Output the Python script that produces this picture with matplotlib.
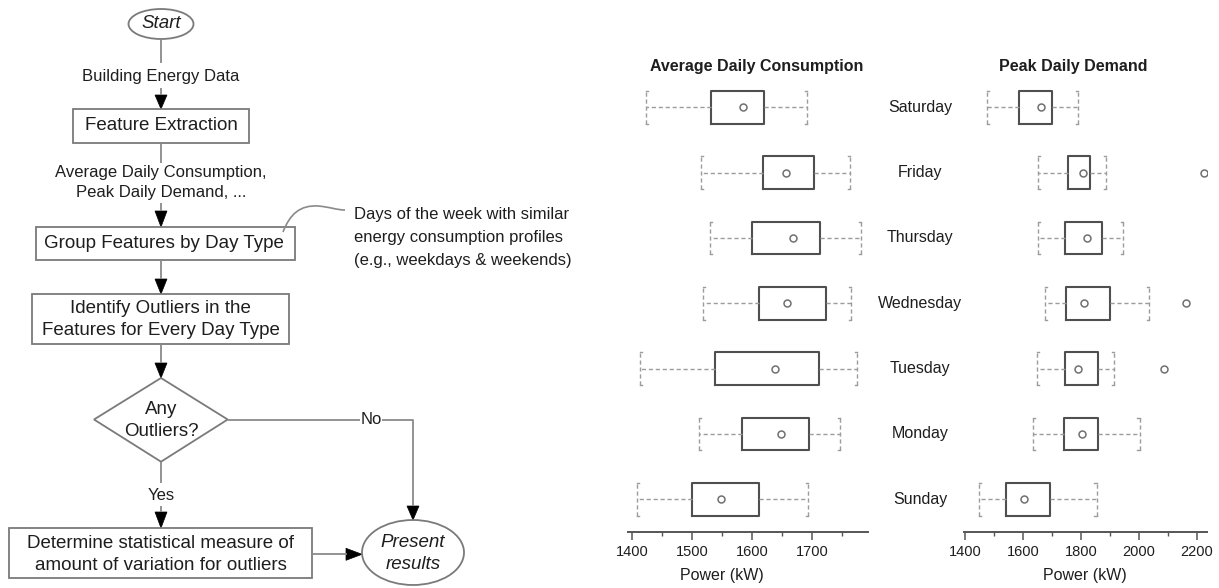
import matplotlib
matplotlib.use('Agg')
import matplotlib.pyplot as plt
from matplotlib.patches import Rectangle, Ellipse, Polygon, PathPatch
from matplotlib.path import Path
from matplotlib.transforms import blended_transform_factory

plt.rcParams['font.family'] = ['Liberation Sans', 'DejaVu Sans']

# day order from bottom row to top row
days = ['Sunday', 'Monday', 'Tuesday', 'Wednesday', 'Thursday', 'Friday', 'Saturday']

# average daily consumption (kW)
avg_whislo = [1407, 1511, 1413, 1518, 1530, 1514, 1422]
avg_q1 = [1500, 1583, 1538, 1611, 1600, 1618, 1531]
avg_mean = [1548, 1647, 1637, 1657, 1668, 1656, 1585]
avg_q3 = [1611, 1694, 1711, 1722, 1713, 1702, 1620]
avg_whishi = [1693, 1746, 1774, 1764, 1781, 1763, 1691]
avg_outliers = [[], [], [], [], [], [], []]

# peak daily demand (kW)
peak_whislo = [1447, 1634, 1647, 1677, 1652, 1652, 1475]
peak_q1 = [1542, 1741, 1744, 1748, 1744, 1754, 1587]
peak_mean = [1605, 1802, 1789, 1810, 1822, 1806, 1662]
peak_q3 = [1693, 1859, 1860, 1900, 1872, 1831, 1699]
peak_whishi = [1854, 2002, 1915, 2036, 1944, 1886, 1789]
peak_outliers = [[], [], [2087], [2161], [], [2224], []]

avg_ticks = [1400, 1500, 1600, 1700]
avg_minor = [1450, 1550, 1650, 1750]
peak_ticks = [1400, 1600, 1800, 2000, 2200]
peak_minor = [1500, 1700, 1900, 2100]

TEXT = '#1e1e1e'
LINE = '#8a8a8a'
EDGE = '#7a7a7a'

W, H = 1219, 588
fig = plt.figure(figsize=(W / 100, H / 100), dpi=100)


# ---------------- flowchart (drawn in pixel units) ----------------
fc = fig.add_axes([0, 0, 600 / W, 1])
fc.set_xlim(0, 600)
fc.set_ylim(H, 0)
fc.axis('off')


def box(x0, x1, y0, y1):
    fc.add_patch(Rectangle((x0, y0), x1 - x0, y1 - y0, fill=False, ec=EDGE, lw=1.3))


def line(xs, ys):
    fc.plot(xs, ys, color=LINE, lw=1.3, solid_capstyle='butt')


def head_down(x, y0, y1, w=12):
    fc.add_patch(Polygon([(x - w / 2, y0), (x + w / 2, y0), (x, y1)], closed=True, fc='black', ec='black', lw=0.5))


def head_right(x0, x1, y, h=12):
    fc.add_patch(Polygon([(x0, y - h / 2), (x0, y + h / 2), (x1, y)], closed=True, fc='black', ec='black', lw=0.5))


def label(x, y, s, size=13.5, **kw):
    fc.text(x, y, s, ha='center', va='center', fontsize=size, color=TEXT, **kw)


# Start
fc.add_patch(Ellipse((161, 24), 65, 30, fill=False, ec=EDGE, lw=1.3))
label(161, 24, 'Start', style='italic')
line([161, 161], [39, 63])
label(161, 77, 'Building Energy Data', size=12)
line([161, 161], [88, 95])
head_down(161, 95, 109)

box(72.7, 249.3, 109, 142.7)
label(161, 126, 'Feature Extraction')
line([161, 161], [142.7, 163])
label(161, 173, 'Average Daily Consumption,', size=12)
label(161, 193, 'Peak Daily Demand, ...', size=12)
line([161, 161], [203, 211])
head_down(161, 211, 227)

box(36, 295, 227, 260)
label(163.5, 243.5, 'Group Features by Day Type')
line([161, 161], [260, 279])
head_down(161, 279, 294)

# side note on day types
note = Path([(283, 232), (290, 214), (300, 205), (318, 206),
             (330, 207), (337, 210), (345, 210)],
            [Path.MOVETO, Path.CURVE4, Path.CURVE4, Path.CURVE4,
             Path.CURVE4, Path.CURVE4, Path.CURVE4])
fc.add_patch(PathPatch(note, fill=False, ec=LINE, lw=1.2))
for yy, s in zip([215, 237.5, 260], ['Days of the week with similar',
                                    'energy consumption profiles',
                                    '(e.g., weekdays & weekends)']):
    fc.text(354, yy, s, ha='left', va='center', fontsize=12, color=TEXT)

box(32.3, 288.7, 294, 344.3)
label(160.5, 308.5, 'Identify Outliers in the')
label(160.5, 330.5, 'Features for Every Day Type')
line([161, 161], [344.3, 363])
head_down(161, 363, 378)

# decision
fc.add_patch(Polygon([(161, 378), (227.7, 419.5), (161, 461.7), (94, 419.5)],
                     closed=True, fill=False, ec=EDGE, lw=1.3))
label(161, 409, 'Any')
label(161, 431.5, 'Outliers?')

line([161, 161], [461.7, 483])
label(161, 496, 'Yes', size=12)
line([161, 161], [506, 512])
head_down(161, 512, 528)

line([227.7, 360], [419.5, 419.5])
label(371, 419.5, 'No', size=12)
line([382, 413, 413], [419.5, 419.5, 506])
head_down(413, 506, 520)

box(9.3, 312.3, 528.3, 577.7)
label(160.8, 543.5, 'Determine statistical measure of')
label(160.8, 565, 'amount of variation for outliers')
line([312.3, 347], [554.3, 554.3])
head_right(346, 362, 554.3)

fc.add_patch(Ellipse((413, 552.5), 102, 65, fill=False, ec=EDGE, lw=1.3))
label(413, 542.5, 'Present', style='italic')
label(413, 564.5, 'results', style='italic')


# ---------------- box plots ----------------
row_px = 65.33
y_top_px, y_spine_px = 71.4, 532.3
ax_h = (y_spine_px - y_top_px) / H
ax_b = 1 - y_spine_px / H


def make_stats(lo, q1, mean, q3, hi, outs):
    stats = []
    for i in range(len(lo)):
        stats.append(dict(whislo=lo[i], q1=q1[i], med=mean[i], mean=mean[i],
                          q3=q3[i], whishi=hi[i], fliers=outs[i], label=days[i]))
    return stats


def panel(rect, xlim, stats, major, minor, xlabel_x):
    ax = fig.add_axes(rect)
    pos = list(range(len(stats)))
    dash = dict(color='#9c9c9c', lw=1.0, linestyle=(0, (3, 2)))
    ax.bxp(stats, positions=pos, widths=0.5, capwidths=0.5, orientation='horizontal',
           showmeans=True, showfliers=True,
           boxprops=dict(color='#4f4f4f', lw=1.5),
           whiskerprops=dash, capprops=dash,
           medianprops=dict(visible=False),
           meanprops=dict(marker='o', markersize=5, markerfacecolor='white',
                          markeredgecolor='#707070', markeredgewidth=1.1),
           flierprops=dict(marker='o', markersize=5, markerfacecolor='white',
                           markeredgecolor='#707070', markeredgewidth=1.1))
    # small hooks at the ends of the caps
    dx = 0.009 * (xlim[1] - xlim[0])
    for p, s in zip(pos, stats):
        for yy in (p - 0.25, p + 0.25):
            ax.plot([s['whislo'], s['whislo'] + dx], [yy, yy], color='#9c9c9c', lw=1.0)
            ax.plot([s['whishi'], s['whishi'] - dx], [yy, yy], color='#9c9c9c', lw=1.0)
    ax.set_xlim(*xlim)
    ax.set_ylim(-0.505, 6.55)
    ax.set_yticks([])
    for side in ('top', 'right', 'left'):
        ax.spines[side].set_visible(False)
    ax.spines['bottom'].set_color('#555555')
    ax.spines['bottom'].set_linewidth(1.4)
    ax.set_xticks(major)
    ax.set_xticks(minor, minor=True)
    ax.tick_params(axis='x', which='major', length=5.5, width=1.1, color='#555555',
                   labelsize=10.5, labelcolor=TEXT, pad=4)
    ax.tick_params(axis='x', which='minor', length=3, width=1.0, color='#555555')
    ax.set_xlabel('Power (kW)', fontsize=11.5, color=TEXT)
    ax.xaxis.set_label_coords(xlabel_x, -0.078)
    ax.patch.set_alpha(0)
    return ax


ax1 = panel([627.5 / W, ax_b, 240.6 / W, ax_h], (1392, 1793),
            make_stats(avg_whislo, avg_q1, avg_mean, avg_q3, avg_whishi, avg_outliers),
            avg_ticks, avg_minor, 0.392)
ax2 = panel([963.5 / W, ax_b, 243 / W, ax_h], (1395, 2233),
            make_stats(peak_whislo, peak_q1, peak_mean, peak_q3, peak_whishi, peak_outliers),
            peak_ticks, peak_minor, 0.5)

fig.text(756.5 / W, 1 - 66 / H, 'Average Daily Consumption', ha='center', va='center',
         fontsize=11.5, fontweight='bold', color=TEXT)
fig.text(1073.7 / W, 1 - 66 / H, 'Peak Daily Demand', ha='center', va='center',
         fontsize=11.5, fontweight='bold', color=TEXT)

# day names between the two panels
tr = blended_transform_factory(fig.transFigure, ax1.transData)
for i, d in enumerate(days):
    fig.text(920 / W, i, d, transform=tr, ha='center', va='center', fontsize=11.5, color=TEXT)

fig.savefig('out.png', dpi=100, facecolor='white')
